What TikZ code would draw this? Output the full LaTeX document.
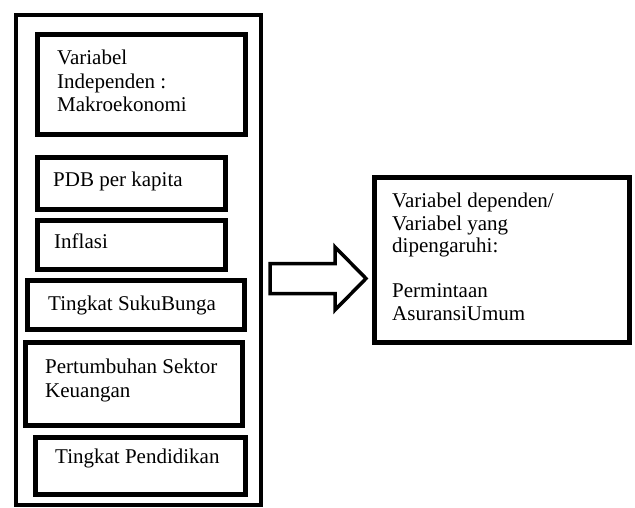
\documentclass[tikz,border=0pt]{standalone}
\usepackage{fontspec}
\setmainfont{Liberation Serif}

\begin{document}
\begin{tikzpicture}[x=1pt, y=-1pt,
		kotak/.style={draw, line width=4.5pt, anchor=north west, inner sep=0pt, outer sep=0pt},
		teks/.style={anchor=base west, inner sep=0pt, align=left, font=\fontsize{21}{23.5}\selectfont}]
		\useasboundingbox (0,0) rectangle (635,508);
		
		% Kotak luar
		\node[kotak, line width=4pt, minimum width=245pt, minimum height=490pt] (luar) at (16,15) {};
		
		% Variabel independen
		\node[kotak, minimum width=208pt, minimum height=100pt] (makro) at (37.5,34.5) {};
		\node[kotak, minimum width=188pt, minimum height=52pt] (pdb) at (37.5,157.5) {};
		\node[kotak, minimum width=188pt, minimum height=49pt] (inflasi) at (37.5,220.5) {};
		\node[kotak, minimum width=217pt, minimum height=49pt] (bunga) at (27.5,280.5) {};
		\node[kotak, minimum width=217pt, minimum height=83pt] (keuangan) at (25.5,342.5) {};
		\node[kotak, minimum width=210pt, minimum height=57pt] (pendidikan) at (35.5,437.5) {};
		
		% (base = baris terakhir)
		\node[teks] (makrotxt) at (57,112) {Variabel\\Independen :\\Makroekonomi};
		\node[teks] (pdbtxt) at (53,187) {PDB per kapita};
		\node[teks] (inflasitxt) at (54,248) {Inflasi};
		\node[teks] (bungatxt) at (48,310) {Tingkat SukuBunga};
		\node[teks] (keuangantxt) at (45,397) {Pertumbuhan Sektor\\Keuangan};
		\node[teks] (pendidikantxt) at (55,463) {Tingkat Pendidikan};
		
		% Variabel dependen
		\node[kotak, minimum width=255pt, minimum height=165pt] (dependen) at (374.5,177.5) {};
		\node[teks, font=\fontsize{21}{22.5}\selectfont] (dependentxt) at (392,320)
			{Variabel dependen/\\Variabel yang\\dipengaruhi:\\[22.5pt]Permintaan\\AsuransiUmum};
		
		% Panah
		\coordinate (ekor) at (270,278.5);
		\coordinate (ujung) at (366,278.5);
		\draw[line width=3.5pt, line join=miter] (ekor) ++(0,-15) -- ++(65,0) -- ++(0,-16.5) -- (ujung)
			-- ++(-31,31.5) -- ++(0,-16.5) -- ++(-65,0) -- cycle;
\end{tikzpicture}
\end{document}
